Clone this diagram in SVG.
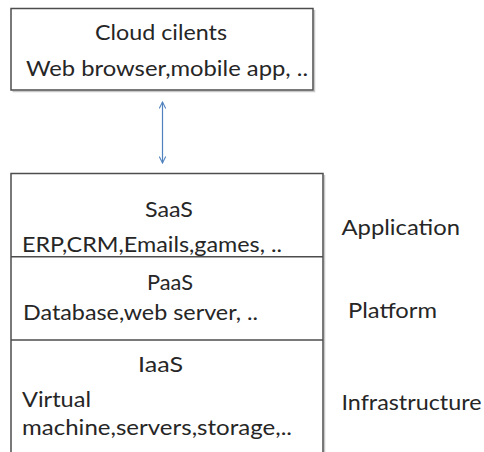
<svg xmlns="http://www.w3.org/2000/svg" width="484" height="452" viewBox="0 0 484 452">
  <style>
    .box { fill: #ffffff; stroke: #4d4d4d; stroke-width: 1.5; }
    .sep { stroke: #4d4d4d; stroke-width: 1.5; }
    .shadow { stroke: #c8c8c8; stroke-width: 1.5; fill: none; }
    .t { font-family: "Lato", "Liberation Sans", sans-serif; font-size: 22px; fill: #262626; }
    .c { text-anchor: middle; }
    .conn { stroke: #4f81bd; stroke-width: 1.2; fill: none; }
  </style>
  <defs>
    <marker id="arr" viewBox="0 0 10 10" refX="9" refY="5" markerWidth="8" markerHeight="8" orient="auto-start-reverse" markerUnits="userSpaceOnUse">
      <path d="M1,1 L9,5 L1,9" fill="none" stroke="#4f81bd" stroke-width="1.3"/>
    </marker>
  </defs>
  <rect width="484" height="452" fill="#ffffff"/>

  <g id="cloud-clients">
    <path class="shadow" d="M314.5,10 V91.5 H12.5"/>
    <rect class="box" x="11" y="8.5" width="302" height="81.5"/>
    <text class="t c" x="161" y="40" textLength="132" lengthAdjust="spacingAndGlyphs">Cloud cilents</text>
    <text class="t" x="26" y="76" textLength="282" lengthAdjust="spacingAndGlyphs">Web browser,mobile app, ..</text>
  </g>

  <g id="connectors">
    <line class="conn" x1="162.5" y1="102" x2="162.5" y2="163" marker-start="url(#arr)" marker-end="url(#arr)"/>
  </g>

  <g id="stack">
    <path class="shadow" d="M324.5,175 V452"/>
    <rect class="box" x="11" y="173.5" width="312" height="290"/>
  </g>

  <g id="saas">
    <text class="t c" x="169" y="217" textLength="48" lengthAdjust="spacingAndGlyphs">SaaS</text>
    <text class="t" x="22" y="252" textLength="260" lengthAdjust="spacingAndGlyphs">ERP,CRM,Emails,games, ..</text>
  </g>

  <g id="paas">
    <line class="sep" x1="11" y1="256.8" x2="323" y2="256.8"/>
    <text class="t c" x="170" y="290" textLength="46" lengthAdjust="spacingAndGlyphs">PaaS</text>
    <text class="t" x="23" y="320" textLength="235" lengthAdjust="spacingAndGlyphs">Database,web server, ..</text>
  </g>

  <g id="iaas">
    <line class="sep" x1="11" y1="340" x2="323" y2="340"/>
    <text class="t c" x="160.5" y="372" textLength="45" lengthAdjust="spacingAndGlyphs">IaaS</text>
    <text class="t" x="22" y="407" textLength="69" lengthAdjust="spacingAndGlyphs">Virtual</text>
    <text class="t" x="22" y="435" textLength="270" lengthAdjust="spacingAndGlyphs">machine,servers,storage,..</text>
  </g>

  <g id="labels">
    <text class="t" x="341.5" y="235" textLength="118.5" lengthAdjust="spacingAndGlyphs">Application</text>
    <text class="t" x="348" y="318" textLength="89" lengthAdjust="spacingAndGlyphs">Platform</text>
    <text class="t" x="341.5" y="410" textLength="140" lengthAdjust="spacingAndGlyphs">Infrastructure</text>
  </g>
</svg>
